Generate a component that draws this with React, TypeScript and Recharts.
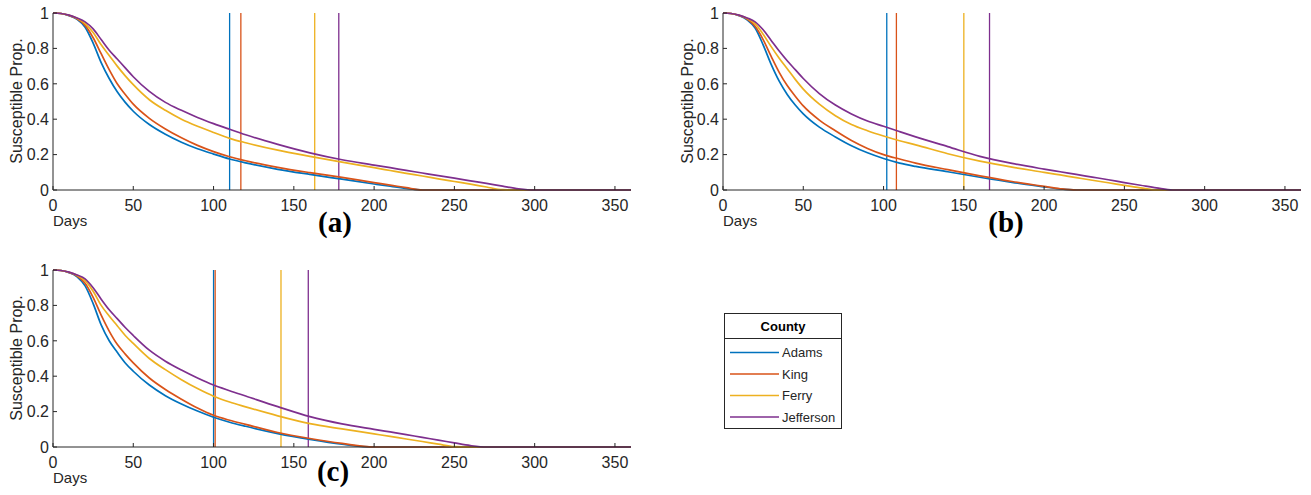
import React from 'react';
import { LineChart, Line, XAxis, YAxis, ReferenceLine } from 'recharts';

// Shared day grid for every curve
const DAYS = [0, 5, 10, 15, 20, 25, 30, 35, 40, 45, 50, 60, 70, 80, 90, 100, 110, 120, 140, 160, 180, 200, 210, 220, 230, 240, 250, 260, 270, 280, 290, 300, 360];

const COUNTIES = ['Adams', 'King', 'Ferry', 'Jefferson'];
const COLORS = ['#0072BD', '#D95319', '#EDB120', '#7E2F8E'];

// Scenario (a)
const A_ADAMS = [1, 0.997, 0.985, 0.965, 0.92, 0.83, 0.72, 0.63, 0.555, 0.495, 0.445, 0.37, 0.315, 0.27, 0.233, 0.203, 0.175, 0.153, 0.117, 0.088, 0.061, 0.034, 0.021, 0.009, 0, 0, 0, 0, 0, 0, 0, 0, 0];
const A_KING = [1, 0.997, 0.986, 0.967, 0.93, 0.86, 0.77, 0.68, 0.6, 0.54, 0.485, 0.405, 0.345, 0.295, 0.252, 0.217, 0.188, 0.165, 0.128, 0.098, 0.071, 0.042, 0.028, 0.013, 0, 0, 0, 0, 0, 0, 0, 0, 0];
const A_FERRY = [1, 0.997, 0.987, 0.97, 0.94, 0.89, 0.82, 0.76, 0.7, 0.645, 0.595, 0.51, 0.45, 0.4, 0.36, 0.325, 0.292, 0.267, 0.225, 0.19, 0.157, 0.126, 0.11, 0.094, 0.079, 0.063, 0.048, 0.033, 0.017, 0.002, 0, 0, 0];
const A_JEFFERSON = [1, 0.997, 0.988, 0.972, 0.95, 0.91, 0.85, 0.79, 0.74, 0.69, 0.64, 0.557, 0.495, 0.45, 0.41, 0.375, 0.343, 0.312, 0.258, 0.21, 0.171, 0.141, 0.126, 0.111, 0.096, 0.081, 0.067, 0.052, 0.037, 0.022, 0.007, 0, 0];
const A_CUTOFF = [110, 117, 163, 178];

// Scenario (b)
const B_ADAMS = [1, 0.997, 0.985, 0.962, 0.915, 0.82, 0.71, 0.615, 0.54, 0.48, 0.43, 0.355, 0.3, 0.25, 0.21, 0.178, 0.152, 0.133, 0.103, 0.072, 0.043, 0.018, 0.006, 0, 0, 0, 0, 0, 0, 0, 0, 0, 0];
const B_KING = [1, 0.997, 0.986, 0.966, 0.925, 0.85, 0.755, 0.665, 0.59, 0.53, 0.475, 0.395, 0.335, 0.28, 0.235, 0.2, 0.175, 0.152, 0.115, 0.08, 0.048, 0.02, 0.007, 0, 0, 0, 0, 0, 0, 0, 0, 0, 0];
const B_FERRY = [1, 0.997, 0.987, 0.97, 0.94, 0.88, 0.81, 0.745, 0.685, 0.625, 0.57, 0.485, 0.42, 0.37, 0.335, 0.305, 0.278, 0.255, 0.205, 0.163, 0.129, 0.1, 0.085, 0.07, 0.055, 0.041, 0.026, 0.012, 0, 0, 0, 0, 0];
const B_JEFFERSON = [1, 0.997, 0.988, 0.972, 0.95, 0.905, 0.845, 0.785, 0.73, 0.68, 0.63, 0.545, 0.48, 0.43, 0.39, 0.36, 0.33, 0.3, 0.245, 0.19, 0.15, 0.118, 0.103, 0.088, 0.073, 0.058, 0.042, 0.027, 0.012, 0, 0, 0, 0];
const B_CUTOFF = [102, 108, 150, 166];

// Scenario (c)
const C_ADAMS = [1, 0.997, 0.985, 0.962, 0.91, 0.81, 0.69, 0.6, 0.535, 0.475, 0.428, 0.35, 0.29, 0.243, 0.203, 0.168, 0.14, 0.117, 0.076, 0.043, 0.016, 0, 0, 0, 0, 0, 0, 0, 0, 0, 0, 0, 0];
const C_KING = [1, 0.997, 0.986, 0.966, 0.925, 0.845, 0.745, 0.655, 0.58, 0.525, 0.475, 0.39, 0.325, 0.27, 0.22, 0.179, 0.151, 0.128, 0.082, 0.048, 0.02, 0, 0, 0, 0, 0, 0, 0, 0, 0, 0, 0, 0];
const C_FERRY = [1, 0.997, 0.987, 0.97, 0.94, 0.88, 0.8, 0.74, 0.685, 0.63, 0.585, 0.5, 0.437, 0.38, 0.33, 0.287, 0.254, 0.227, 0.176, 0.132, 0.102, 0.074, 0.06, 0.045, 0.031, 0.016, 0.002, 0, 0, 0, 0, 0, 0];
const C_JEFFERSON = [1, 0.997, 0.988, 0.972, 0.95, 0.9, 0.835, 0.775, 0.725, 0.675, 0.63, 0.547, 0.485, 0.435, 0.39, 0.35, 0.318, 0.288, 0.228, 0.172, 0.131, 0.1, 0.085, 0.07, 0.054, 0.039, 0.023, 0.008, 0, 0, 0, 0, 0];
const C_CUTOFF = [100, 101, 142, 159];

const X_TICKS = [0, 50, 100, 150, 200, 250, 300, 350];
const Y_TICKS = [0, 0.2, 0.4, 0.6, 0.8, 1];

const INK = '#262626';
const SANS = '"Liberation Sans", Arial, sans-serif';
const SERIF = '"Liberation Serif", "Times New Roman", serif';
const TICK_LEN = 4;

function buildRows(series: number[][]) {
  return DAYS.map((day, i) => {
    const row: Record<string, number> = { day };
    COUNTIES.forEach((c, k) => {
      row[c] = series[k][i];
    });
    return row;
  });
}

const BottomTick = ({ x, y, payload }: any) => (
  <g>
    <line x1={x} x2={x} y1={y} y2={y - TICK_LEN} stroke={INK} />
    <text x={x} y={y + 21} textAnchor="middle" fill={INK} fontSize={16} fontFamily={SANS}>
      {payload.value}
    </text>
  </g>
);

const TopTick = ({ x, y }: any) => <line x1={x} x2={x} y1={y} y2={y + TICK_LEN} stroke={INK} />;

const LeftTick = ({ x, y, payload }: any) => (
  <g>
    <line x1={x} x2={x + TICK_LEN} y1={y} y2={y} stroke={INK} />
    <text x={x - 4} y={y} dy="0.36em" textAnchor="end" fill={INK} fontSize={16} fontFamily={SANS}>
      {payload.value}
    </text>
  </g>
);

const RightTick = ({ x, y }: any) => <line x1={x} x2={x - TICK_LEN} y1={y} y2={y} stroke={INK} />;

interface PanelProps {
  series: number[][];
  cutoffs: number[];
  left: number;
  top: number;
}

function Panel({ series, cutoffs, left, top }: PanelProps) {
  const rows = buildRows(series);
  return (
    <div style={{ position: 'absolute', left, top }}>
      <LineChart width={640} height={230} data={rows} margin={{ top: 13, right: 9, left: 0, bottom: 0 }}>
        <XAxis
          dataKey="day"
          type="number"
          domain={[0, 360]}
          ticks={X_TICKS}
          interval={0}
          height={40}
          tickSize={0}
          tickMargin={0}
          tickLine={false}
          axisLine={{ stroke: INK }}
          tick={BottomTick}
        />
        <XAxis
          xAxisId="top"
          orientation="top"
          dataKey="day"
          type="number"
          domain={[0, 360]}
          ticks={X_TICKS}
          interval={0}
          height={0}
          tickSize={0}
          tickMargin={0}
          tickLine={false}
          axisLine={{ stroke: INK }}
          tick={TopTick}
        />
        <YAxis
          type="number"
          domain={[0, 1]}
          ticks={Y_TICKS}
          interval={0}
          width={53}
          tickSize={0}
          tickMargin={0}
          tickLine={false}
          axisLine={{ stroke: INK }}
          tick={LeftTick}
        />
        <YAxis
          yAxisId="right"
          orientation="right"
          type="number"
          domain={[0, 1]}
          ticks={Y_TICKS}
          interval={0}
          width={0}
          tickSize={0}
          tickMargin={0}
          tickLine={false}
          axisLine={{ stroke: INK }}
          tick={RightTick}
        />
        {cutoffs.map((d, k) => (
          <ReferenceLine key={COUNTIES[k]} x={d} stroke={COLORS[k]} strokeWidth={1.3} />
        ))}
        {COUNTIES.map((c, k) => (
          <Line
            key={c}
            dataKey={c}
            type="monotone"
            stroke={COLORS[k]}
            strokeWidth={1.7}
            dot={false}
            activeDot={false}
            isAnimationActive={false}
          />
        ))}
      </LineChart>
    </div>
  );
}

// Axis titles, panel letters and the shared legend
function Annotations() {
  const yTitle = (cx: number, cy: number) => (
    <text
      x={cx}
      y={cy}
      transform={`rotate(-90 ${cx} ${cy})`}
      textAnchor="middle"
      dy="0.36em"
      fill={INK}
      fontSize={16}
      fontFamily={SANS}
    >
      Susceptible Prop.
    </text>
  );
  const days = (x: number, y: number) => (
    <text x={x} y={y} fill={INK} fontSize={15} fontFamily={SANS}>
      Days
    </text>
  );
  const letter = (x: number, y: number, s: string) => (
    <text x={x} y={y} textAnchor="middle" fill="#000" fontSize={29} fontWeight="bold" fontFamily={SERIF}>
      {s}
    </text>
  );
  return (
    <svg width={1311} height={495} style={{ position: 'absolute', left: 0, top: 0, pointerEvents: 'none' }}>
      {yTitle(16.5, 101)}
      {yTitle(687, 101)}
      {yTitle(16.5, 358)}
      {days(53, 226)}
      {days(723, 226)}
      {days(53, 483)}
      {letter(335, 232, '(a)')}
      {letter(1006, 232, '(b)')}
      {letter(333, 481, '(c)')}
      <g>
        <rect x={724.5} y={313.5} width={117} height={115} fill="#fff" stroke={INK} />
        <line x1={724.5} x2={841.5} y1={338.5} y2={338.5} stroke={INK} />
        <text x={783} y={326} dy="0.36em" textAnchor="middle" fill="#000" fontSize={13} fontWeight="bold" fontFamily={SANS}>
          County
        </text>
        {COUNTIES.map((c, k) => {
          const y = 352.5 + k * 21.5;
          return (
            <g key={c}>
              <line x1={730} x2={779} y1={y} y2={y} stroke={COLORS[k]} strokeWidth={1.6} />
              <text x={782} y={y} dy="0.36em" fill={INK} fontSize={13} fontFamily={SANS}>
                {c}
              </text>
            </g>
          );
        })}
      </g>
    </svg>
  );
}

export default function App() {
  return (
    <div style={{ position: 'absolute', left: 0, top: 0, width: 1311, height: 495, background: '#fff' }}>
      <Panel series={[A_ADAMS, A_KING, A_FERRY, A_JEFFERSON]} cutoffs={A_CUTOFF} left={0} top={0} />
      <Panel series={[B_ADAMS, B_KING, B_FERRY, B_JEFFERSON]} cutoffs={B_CUTOFF} left={670} top={0} />
      <Panel series={[C_ADAMS, C_KING, C_FERRY, C_JEFFERSON]} cutoffs={C_CUTOFF} left={0} top={257} />
      <Annotations />
    </div>
  );
}
